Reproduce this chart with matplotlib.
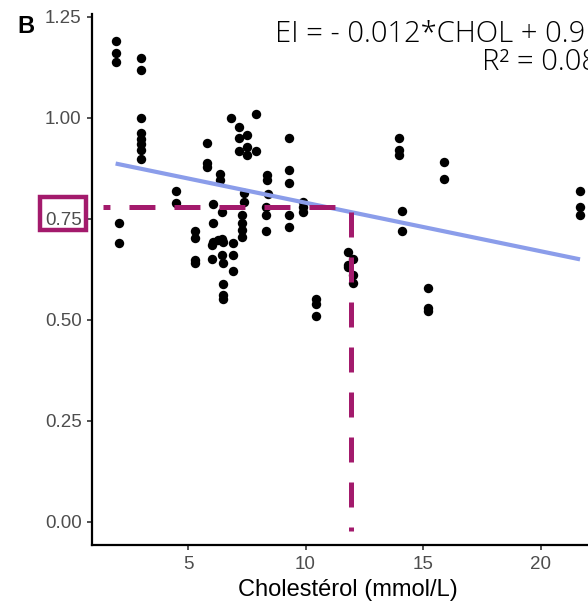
import matplotlib
matplotlib.use("Agg")
import matplotlib.pyplot as plt
from matplotlib.patches import Rectangle

plt.rcParams['font.family'] = ['Liberation Sans', 'DejaVu Sans']
plt.rcParams['lines.scale_dashes'] = False

# cholestérol (mmol/L) et EI pour chaque mesure
chol = [1.92, 1.92, 1.92, 2.06, 2.06,
        3.01, 3.01, 3.01, 3.01, 3.01, 3.01, 3.01, 3.01,
        4.51, 4.51,
        5.30, 5.30, 5.30, 5.30,
        5.80, 5.80, 5.80,
        6.05, 6.05, 6.0, 6.08, 6.0,
        6.36, 6.36, 6.43, 6.29, 6.43, 6.50, 6.43, 6.48, 6.50, 6.50, 6.50,
        6.83, 6.93, 6.93, 6.93,
        7.18, 7.18, 7.18, 7.50, 7.50, 7.50,
        7.40, 7.40, 7.31, 7.31, 7.31, 7.31,
        7.89, 7.89,
        8.36, 8.36, 8.42, 8.31, 8.31, 8.31,
        9.31, 9.31, 9.31, 9.31, 9.31,
        9.90, 9.90, 9.90,
        10.43, 10.43, 10.43,
        11.82, 12.0, 11.82, 11.82, 12.0, 12.0,
        13.99, 13.99, 13.99, 14.09, 14.09,
        15.20, 15.20, 15.20,
        15.91, 15.91,
        21.68, 21.68, 21.68]
ei = [1.189, 1.160, 1.138, 0.739, 0.690,
      1.148, 1.119, 0.999, 0.962, 0.947, 0.936, 0.921, 0.899,
      0.819, 0.790,
      0.719, 0.702, 0.649, 0.640,
      0.939, 0.889, 0.879,
      0.787, 0.739, 0.686, 0.694, 0.650,
      0.861, 0.847, 0.768, 0.698, 0.700, 0.694, 0.661, 0.640, 0.589, 0.562, 0.551,
      0.999, 0.690, 0.661, 0.620,
      0.978, 0.950, 0.919, 0.958, 0.929, 0.908,
      0.813, 0.793, 0.760, 0.739, 0.723, 0.706,
      1.010, 0.919,
      0.859, 0.847, 0.811, 0.780, 0.760, 0.719,
      0.950, 0.870, 0.840, 0.760, 0.731,
      0.793, 0.780, 0.768,
      0.551, 0.540, 0.510,
      0.669, 0.650, 0.636, 0.632, 0.611, 0.591,
      0.950, 0.921, 0.908, 0.770, 0.720,
      0.580, 0.530, 0.521,
      0.890, 0.849,
      0.820, 0.780, 0.760]

slope = -0.012
intercept = 0.91
r2 = 0.08
seuil_ei = 0.78
seuil_chol = 11.92

W, H = 588, 603
fig = plt.figure(figsize=(W / 100, H / 100), dpi=100)
ax = fig.add_axes([92 / W, 58 / H, 512 / W, 531 / H])

ax.scatter(chol, ei, s=46, color='black', linewidths=0, zorder=3)

x0, x1 = min(chol), max(chol)
ax.plot([x0, x1], [intercept + slope * x0, intercept + slope * x1],
        color='#8B9DEA', lw=3, solid_capstyle='butt', zorder=4)

mag = '#A31A6C'
ax.plot([1.38, seuil_chol], [seuil_ei, seuil_ei], color=mag, lw=3.6,
        linestyle=(13.7, (18.7, 13.7)), zorder=5)
ax.plot([seuil_chol, seuil_chol], [0.767, -0.022], color=mag, lw=3.6,
        linestyle=(0, (18.0, 14.4)), zorder=5)

ax.set_xlim(0.915, 22.7)
ax.set_ylim(-0.057, 1.257)
ax.set_xticks([5, 10, 15, 20])
ax.set_yticks([0, 0.25, 0.5, 0.75, 1.0, 1.25])
ax.set_yticklabels([f'{v:.2f}' for v in [0, 0.25, 0.5, 0.75, 1.0, 1.25]])
ax.tick_params(labelsize=13.5, labelcolor='#4D4D4D', color='#333333',
               length=3.5, width=1.2)
ax.tick_params(axis='x', pad=4.5)
ax.tick_params(axis='y', pad=4)
for s in ['top', 'right']:
    ax.spines[s].set_visible(False)
for s in ['left', 'bottom']:
    ax.spines[s].set_linewidth(1.6)
    ax.spines[s].set_color('black')
ax.set_xlabel('Cholestérol (mmol/L)', fontsize=17, labelpad=4)

# cadre autour de la graduation 0.75
fig.patches.append(Rectangle((39.5 / W, 1 - 230 / H), 46 / W, 32.7 / H,
                             transform=fig.transFigure, fill=False,
                             edgecolor=mag, lw=3.2))

fig.text(17 / W, 1 - 33 / H, 'B', fontsize=17, fontweight='bold',
         va='baseline', ha='left')
fig.text(275 / W, 1 - 42 / H, 'EI = - 0.012*CHOL + 0.91', fontsize=21,
         family=['Open Sans', 'DejaVu Sans'], fontweight='light',
         va='baseline', ha='left')
fig.text(482 / W, 1 - 70 / H, 'R² = 0.08', fontsize=21,
         family=['Open Sans', 'DejaVu Sans'], fontweight='light',
         va='baseline', ha='left')

fig.savefig('out.png', dpi=100)
